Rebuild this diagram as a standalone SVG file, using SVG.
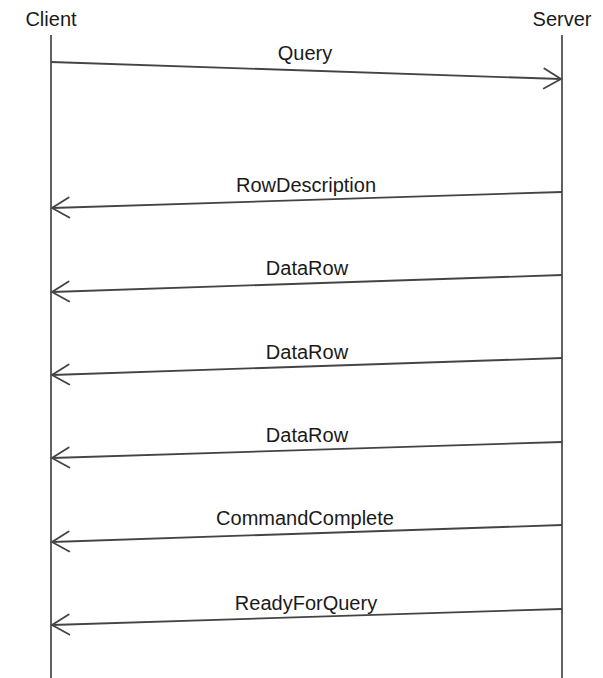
<svg xmlns="http://www.w3.org/2000/svg" width="603" height="678" viewBox="0 0 603 678">
  <style>
    .label { font-family: "Liberation Sans", Arial, Helvetica, sans-serif; font-size: 20px; fill: #1a1a1a; text-anchor: middle; }
    .lifeline { stroke: #3a3a3a; stroke-width: 1.6; fill: none; }
    .msg { stroke: #444; stroke-width: 1.8; fill: none; marker-end: url(#open-arrow); }
  </style>
  <defs>
    <marker id="open-arrow" markerUnits="userSpaceOnUse" markerWidth="24" markerHeight="24" viewBox="-20 -12 24 24" refX="0" refY="0" orient="auto">
      <path d="M -17 -10 L 0 0 L -17 10" fill="none" stroke="#444" stroke-width="1.8" stroke-linecap="round" stroke-linejoin="miter"/>
    </marker>
  </defs>

  <rect width="603" height="678" fill="#ffffff"/>

  <!-- participants -->
  <g id="client">
    <text class="label" x="51" y="26">Client</text>
    <line class="lifeline" x1="51" y1="35" x2="51" y2="678"/>
  </g>
  <g id="server">
    <text class="label" x="562" y="26">Server</text>
    <line class="lifeline" x1="562" y1="35" x2="562" y2="678"/>
  </g>

  <!-- messages -->
  <g id="connectors">
    <line class="msg" x1="51" y1="62" x2="561" y2="79"/>
    <line class="msg" x1="562" y1="192" x2="52" y2="208"/>
    <line class="msg" x1="562" y1="275" x2="52" y2="292"/>
    <line class="msg" x1="562" y1="358" x2="52" y2="375"/>
    <line class="msg" x1="562" y1="442" x2="52" y2="458"/>
    <line class="msg" x1="562" y1="525" x2="52" y2="542"/>
    <line class="msg" x1="562" y1="609" x2="52" y2="625"/>
  </g>

  <g id="labels">
    <text class="label" x="305" y="60">Query</text>
    <text class="label" x="306" y="192">RowDescription</text>
    <text class="label" x="307" y="275">DataRow</text>
    <text class="label" x="307" y="359">DataRow</text>
    <text class="label" x="307" y="442">DataRow</text>
    <text class="label" x="305" y="525">CommandComplete</text>
    <text class="label" x="306" y="610">ReadyForQuery</text>
  </g>
</svg>
